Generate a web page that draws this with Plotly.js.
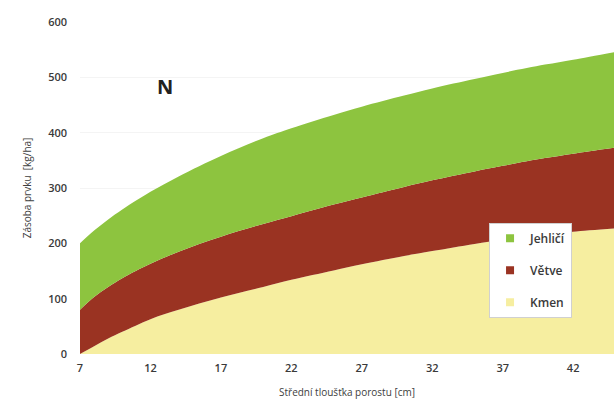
<!DOCTYPE html>
<html>
<head>
<meta charset="utf-8">
<script src="https://cdn.plot.ly/plotly-3.0.1.min.js"></script>
<style>html,body{margin:0;padding:0;background:#fff;}#chart{width:614px;height:409px;}</style>
</head>
<body>
<div id="chart"></div>
<script>
// Střední tloušťka porostu [cm]
const xVals = [7, 8, 9, 10, 12, 14, 17, 20, 22, 25, 27, 30, 32, 35, 37, 40, 42, 45];
// Stacked layers (kg/ha)
const kmen    = [0, 14, 28, 40, 63, 80, 102, 121, 134, 151, 162, 177, 186, 199, 206, 216, 221, 227];
const vetve   = [80, 89, 93, 97, 100, 105, 110, 114, 115, 119, 121, 125, 128, 131, 134, 138, 141, 146];
const jehlici = [120, 120, 122, 124, 130, 136, 146, 155, 159, 162, 164, 165, 166, 167, 168, 169, 170, 173];
const seriesNames = ["Kmen", "Větve", "Jehličí"];
const seriesColors = ["#f6eea0", "#9a3322", "#8dc43f"];
const xTicks = [7, 12, 17, 22, 27, 32, 37, 42];
const yTicks = [0, 100, 200, 300, 400, 500, 600];

const layers = [kmen, vetve, jehlici];
const traces = [];
layers.forEach((ys, i) => {
  traces.push({
    x: xVals, y: ys, type: 'scatter', mode: 'lines',
    stackgroup: 'one', line: {width: 0, shape: 'spline', smoothing: 1, color: seriesColors[i]},
    fillcolor: seriesColors[i], showlegend: false, hoverinfo: 'skip'
  });
});
// legend entries, top to bottom: Jehličí, Větve, Kmen
[2, 1, 0].forEach((i) => {
  traces.push({
    x: [null], y: [null], type: 'scatter', mode: 'markers',
    name: seriesNames[i], legendgroup: 'g' + i,
    marker: {symbol: 'square', size: 8, color: seriesColors[i]},
    showlegend: true
  });
});

const font = {family: 'Open Sans, Liberation Sans, sans-serif', color: '#404040'};
const layout = {
  width: 614, height: 409,
  margin: {l: 80, r: 0, t: 22, b: 55},
  paper_bgcolor: '#ffffff', plot_bgcolor: '#ffffff',
  font: font,
  showlegend: true,
  xaxis: {
    range: [7, 44.9], tickvals: xTicks, ticktext: xTicks.map(String),
    showgrid: false, zeroline: false, showline: false, ticks: '',
    tickfont: {size: 11, color: '#3a3a3a', weight: 600}, ticklabelstandoff: 6,
    title: {text: 'Střední tloušťka porostu [cm]', font: {size: 10, color: '#404040'}, standoff: 14}
  },
  yaxis: {
    range: [0, 600], tickvals: yTicks, ticktext: yTicks.map(String),
    showgrid: true, gridcolor: '#f4f4f4', zeroline: false, showline: false, ticks: '',
    tickfont: {size: 11, color: '#3a3a3a', weight: 600}, ticklabelstandoff: 12,
    title: {text: 'Zásoba prvku  [kg/ha]', font: {size: 10, color: '#404040'}, standoff: 14}
  },
  legend: {
    x: 0.766, y: 0.395, xanchor: 'left', yanchor: 'top',
    bgcolor: '#ffffff', bordercolor: '#d0d0d0', borderwidth: 1,
    traceorder: 'grouped', tracegroupgap: 13,
    font: {size: 12, color: '#3a3a3a', weight: 600}, itemwidth: 30
  },
  annotations: [{
    text: '<b>N</b>', x: 13.0, y: 484, xref: 'x', yref: 'y', showarrow: false,
    font: {size: 20, color: '#222222', family: 'Open Sans, sans-serif'}
  }]
};
Plotly.newPlot('chart', traces, layout, {displayModeBar: false, staticPlot: true});
</script>
</body>
</html>
